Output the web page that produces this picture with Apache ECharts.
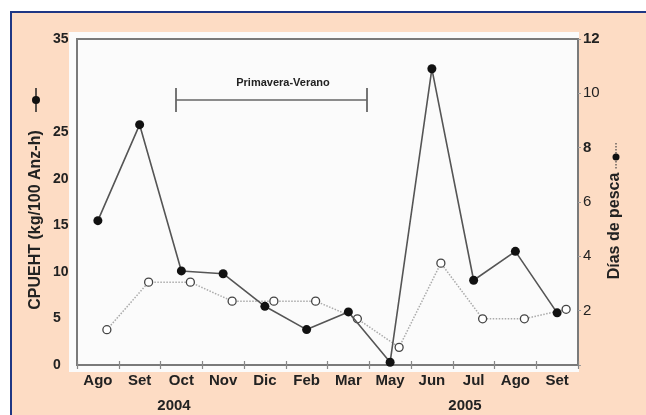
<!DOCTYPE html>
<html><head><meta charset="utf-8">
<script src="https://cdn.jsdelivr.net/npm/echarts@6/dist/echarts.min.js"></script>
<style>html,body{margin:0;padding:0;background:#fff}#c{width:646px;height:415px}</style>
</head><body><div id="c"></div>
<script>
const months = ['Ago','Set','Oct','Nov','Dic','Feb','Mar','May','Jun','Jul','Ago','Set'];
const cpue = [15.5, 25.8, 10.1, 9.8, 6.3, 3.8, 5.7, 0.3, 31.8, 9.1, 12.2, 5.6];
const dias = [1.3, 3.05, 3.05, 2.35, 2.35, 2.35, 1.7, 0.65, 3.75, 1.7, 1.7, 2.05];
const years = ['2004', '2005'];
const leftName = 'CPUEHT (kg/100 Anz-h)';
const rightName = 'Días de pesca';
const periodLabel = 'Primavera-Verano';

const FONT = "'Liberation Sans', Arial, sans-serif";
const chart = echarts.init(document.getElementById('c'), null, {renderer: 'canvas'});
const tickLine = {color: '#888', width: 1.2};
chart.setOption({
  animation: false,
  textStyle: {fontFamily: FONT},
  grid: [
    {left: 77, top: 39, width: 501, height: 326, show: true, backgroundColor: 'transparent', borderColor: '#7a7a7a', borderWidth: 2},
    {left: 86, top: 39, width: 501, height: 326, show: false}
  ],
  xAxis: [
    {gridIndex: 0, type: 'category', data: months, position: 'bottom', boundaryGap: true,
     axisLine: {show: false}, axisTick: {show: true, inside: true, length: 4, lineStyle: tickLine},
     axisLabel: {show: true, margin: 8, fontFamily: FONT, fontWeight: 'bold', fontSize: 15, color: '#222', interval: 0}},
    {gridIndex: 0, type: 'category', data: months, position: 'top', boundaryGap: true,
     axisLine: {show: false}, axisTick: {show: true, inside: true, length: 4, lineStyle: tickLine},
     axisLabel: {show: false}},
    {gridIndex: 1, type: 'category', data: months, boundaryGap: true, show: false}
  ],
  yAxis: [
    {gridIndex: 0, type: 'value', min: 0, max: 35, interval: 5, position: 'left',
     axisLine: {show: false}, axisTick: {show: false}, splitLine: {show: false},
     axisLabel: {margin: 24, align: 'left', fontFamily: FONT, fontWeight: 'bold', fontSize: 14, color: '#222',
       formatter: v => (v === 30 ? '' : String(v))}},
    {gridIndex: 0, type: 'value', min: 0, max: 12, interval: 2, position: 'right',
     axisLine: {show: false}, axisTick: {show: true, length: 3, lineStyle: {color: '#999'}}, splitLine: {show: false},
     axisLabel: {margin: 5, align: 'left', fontFamily: FONT, fontSize: 15, color: '#222',
       formatter: v => (v === 0 ? '' : ((v === 12 || v === 8) ? '{b|' + v + '}' : String(v))),
       rich: {b: {fontFamily: FONT, fontSize: 15, fontWeight: 'bold', color: '#222'}}}},
    {gridIndex: 1, type: 'value', min: 0, max: 12, show: false}
  ],
  series: [
    {name: rightName, type: 'line', xAxisIndex: 2, yAxisIndex: 2, data: dias, z: 2,
     symbol: 'circle', symbolSize: 8,
     itemStyle: {color: '#fff', borderColor: '#444', borderWidth: 1.3},
     lineStyle: {color: '#aaa', width: 1.5, type: 'dotted'}},
    {name: leftName, type: 'line', xAxisIndex: 0, yAxisIndex: 0, data: cpue, z: 3,
     symbol: 'circle', symbolSize: 9,
     itemStyle: {color: '#111', borderColor: '#111', borderWidth: 0},
     lineStyle: {color: '#555', width: 1.6}}
  ],
  graphic: [
    {type: 'rect', z: -20, shape: {x: 11, y: 12, width: 700, height: 500},
     style: {fill: '#FDDCC4', stroke: '#1F3784', lineWidth: 2}},
    {type: 'rect', z: -10, shape: {x: 69, y: 32, width: 510, height: 340},
     style: {fill: '#FBFBFB'}},
    // Primavera-Verano annotation
    {type: 'line', z: 5, shape: {x1: 176, y1: 100, x2: 367, y2: 100}, style: {stroke: '#666', lineWidth: 1.5}},
    {type: 'line', z: 5, shape: {x1: 176, y1: 88, x2: 176, y2: 112}, style: {stroke: '#666', lineWidth: 1.8}},
    {type: 'line', z: 5, shape: {x1: 367, y1: 88, x2: 367, y2: 112}, style: {stroke: '#666', lineWidth: 1.8}},
    {type: 'text', z: 5, x: 283, y: 83, style: {text: periodLabel, font: 'bold 11px ' + FONT, fill: '#222', align: 'center', verticalAlign: 'middle'}},
    // left axis title + symbol
    {type: 'text', z: 5, x: 36, y: 220, rotation: Math.PI / 2,
     style: {text: leftName, font: 'bold 16px ' + FONT, fill: '#222', align: 'center', verticalAlign: 'middle'}},
    {type: 'line', z: 5, shape: {x1: 36, y1: 88, x2: 36, y2: 112}, style: {stroke: '#222', lineWidth: 1.5}},
    {type: 'circle', z: 6, shape: {cx: 36, cy: 100, r: 4}, style: {fill: '#111'}},
    // right axis title + symbol
    {type: 'text', z: 5, x: 615, y: 226, rotation: Math.PI / 2,
     style: {text: rightName, font: 'bold 16px ' + FONT, fill: '#222', align: 'center', verticalAlign: 'middle'}},
    {type: 'line', z: 5, shape: {x1: 616, y1: 143, x2: 616, y2: 170}, style: {stroke: '#444', lineWidth: 1.2, lineDash: [1.5, 1.5]}},
    {type: 'circle', z: 6, shape: {cx: 616, cy: 157, r: 3.5}, style: {fill: '#111'}},
    // years
    {type: 'text', z: 5, x: 174, y: 406, style: {text: years[0], font: 'bold 15px ' + FONT, fill: '#222', align: 'center', verticalAlign: 'middle'}},
    {type: 'text', z: 5, x: 465, y: 406, style: {text: years[1], font: 'bold 15px ' + FONT, fill: '#222', align: 'center', verticalAlign: 'middle'}}
  ]
});
</script></body></html>
